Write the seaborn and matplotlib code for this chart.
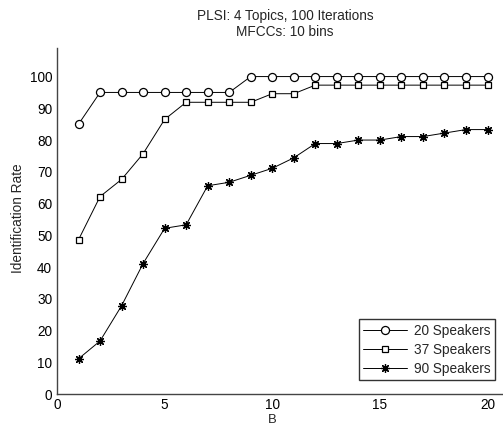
import matplotlib
matplotlib.use("Agg")
import matplotlib.pyplot as plt
import seaborn as sns
import pandas as pd

B = list(range(1, 21))
spk20 = [85.0, 95.0, 95.0, 95.0, 95.0, 95.0, 95.0, 95.0, 100.0, 100.0,
         100.0, 100.0, 100.0, 100.0, 100.0, 100.0, 100.0, 100.0, 100.0, 100.0]
spk37 = [48.6, 62.2, 67.6, 75.7, 86.5, 91.9, 91.9, 91.9, 91.9, 94.6,
         94.6, 97.3, 97.3, 97.3, 97.3, 97.3, 97.3, 97.3, 97.3, 97.3]
spk90 = [11.1, 16.7, 27.8, 41.1, 52.2, 53.3, 65.6, 66.7, 68.9, 71.1,
         74.4, 78.9, 78.9, 80.0, 80.0, 81.1, 81.1, 82.2, 83.3, 83.3]
labels = ["20 Speakers", "37 Speakers", "90 Speakers"]
xticks = [0, 5, 10, 15, 20]
yticks = list(range(0, 101, 10))

sns.set_style("white")
plt.rcParams['font.family'] = ['Liberation Sans', 'DejaVu Sans']
FS = 9.8

AX_BOT = 394
AX_TOP = 48
fig = plt.figure(figsize=(5.03, 4.29), dpi=100)
ax = fig.add_axes([57/503, 1-AX_BOT/429, 1-57/503, (AX_BOT-AX_TOP)/429])
H = AX_BOT - AX_TOP

styles = [("o", 5.8), ("s", 4.6), ((8, 2, 0), 6.2)]
for vals, lab, (mk, ms) in zip([spk20, spk37, spk90], labels, styles):
    df = pd.DataFrame({"B": B, "rate": vals})
    sns.lineplot(data=df, x="B", y="rate", ax=ax, color="black", lw=0.7,
                 marker=mk, markersize=ms, mfc="white", mec="black", mew=0.9,
                 label=lab)

ax.set_xlim(0, 20.72)
ax.set_ylim(0, 109)
ax.set_xticks(xticks)
ax.set_yticks(yticks)
ax.tick_params(direction="in", length=3.5, width=0.7, labelsize=FS,
               colors="black")
ax.tick_params(axis="x", pad=3.0)
ax.tick_params(axis="y", pad=3.5)
for s in ["top", "right"]:
    ax.spines[s].set_visible(False)
for s in ["left", "bottom"]:
    ax.spines[s].set_color("#444444")
    ax.spines[s].set_linewidth(1.0)

ax.set_xlabel("B", fontsize=9.4)
ax.xaxis.set_label_coords(10/20.72, -(413.6 - AX_BOT)/H)
ax.set_ylabel("Identification Rate", fontsize=FS)
ax.yaxis.set_label_coords(-32/446, (AX_BOT-218)/H)

fig.text(285/503, 1-16/429, "PLSI: 4 Topics, 100 Iterations", ha="center",
         va="center", fontsize=FS)
fig.text(285/503, 1-32/429, "MFCCs: 10 bins", ha="center", va="center",
         fontsize=FS)

leg = ax.legend(loc="lower right", fontsize=FS, frameon=True,
                fancybox=False, edgecolor="black", handlelength=3.2,
                handletextpad=0.5, labelspacing=0.36, borderpad=0.33,
                borderaxespad=0)
leg.get_frame().set_linewidth(1.0)
leg.set_bbox_to_anchor(((495-57)/446, (AX_BOT-380)/H), transform=ax.transAxes)

fig.savefig("out.png", dpi=100)
